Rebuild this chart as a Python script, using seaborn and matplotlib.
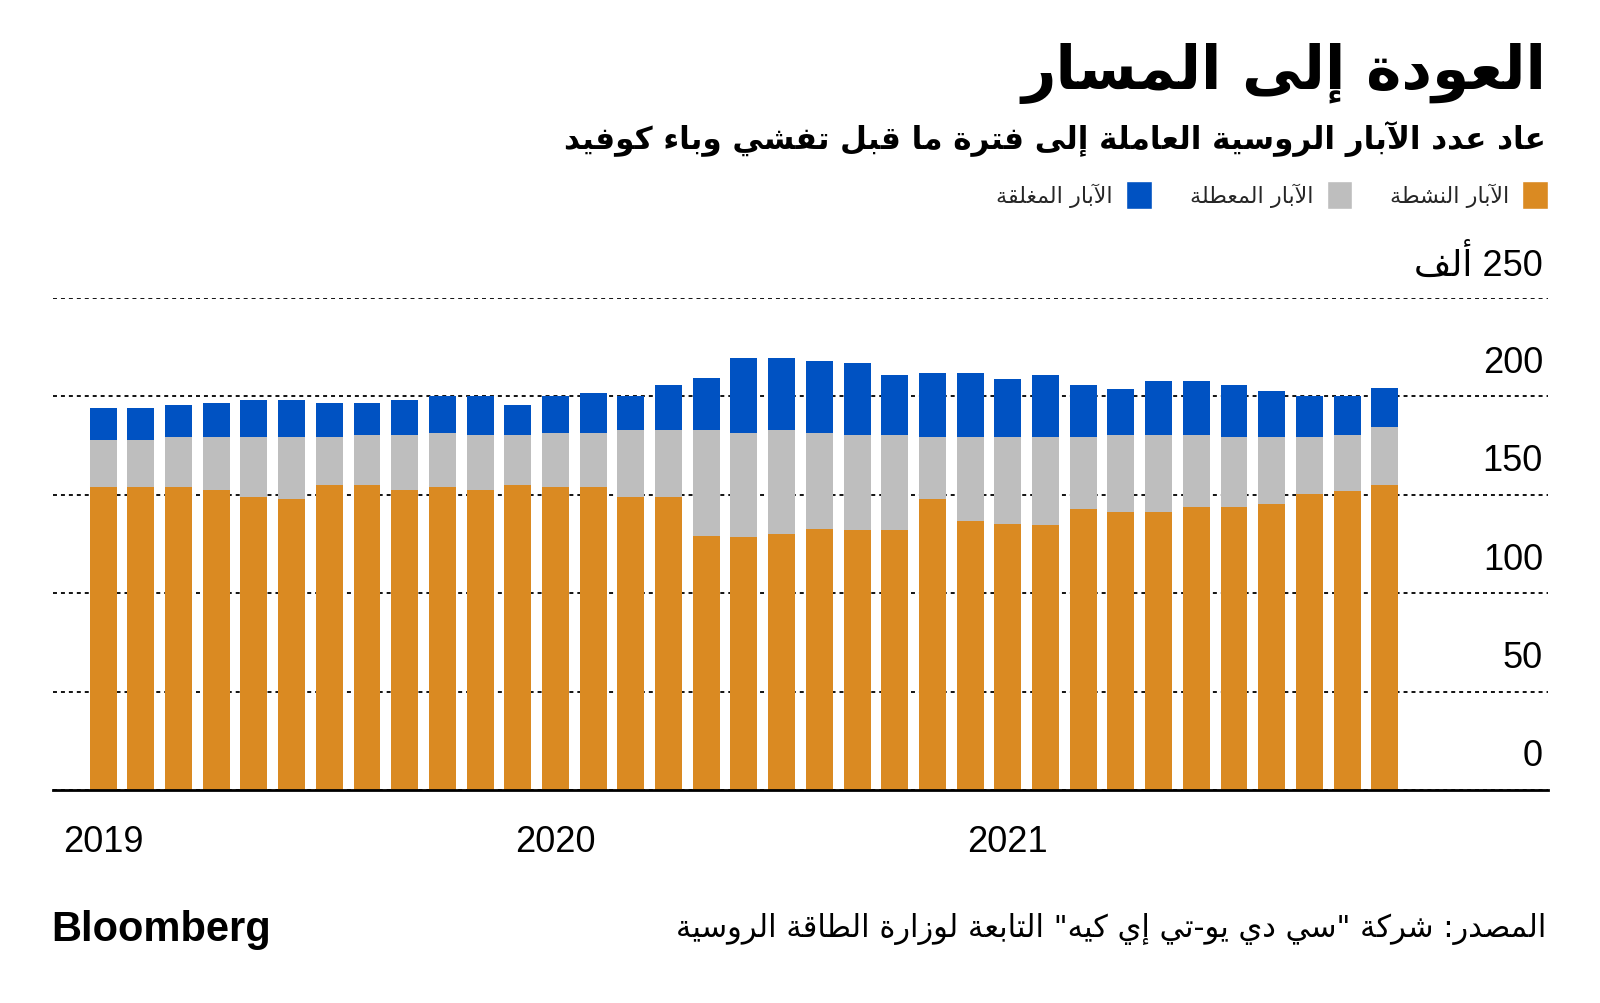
import matplotlib
matplotlib.use("Agg")
import matplotlib.pyplot as plt
import matplotlib.transforms as mtransforms
from matplotlib.patches import Patch
import seaborn as sns
import pandas as pd

# ---------------- data ----------------
months = pd.date_range("2019-01-01", "2021-11-01", freq="MS").strftime("%Y-%m").tolist()
active = [153.9, 153.9, 153.9, 152.5, 149.0, 147.8, 155.1, 155.1, 152.5, 153.9, 152.5, 155.1,
          153.9, 153.9, 149.0, 149.0, 129.0, 128.5, 130.3, 132.5, 132.2, 132.2, 148.0, 136.8,
          135.1, 134.7, 142.7, 141.5, 141.1, 143.6, 143.9, 145.1, 150.5, 151.7, 155.1]
idle = [24.1, 24.1, 25.3, 26.7, 30.2, 31.4, 24.1, 25.2, 27.8, 27.6, 27.8, 25.2,
        27.6, 27.6, 34.1, 34.1, 54.1, 53.0, 52.8, 49.0, 48.1, 48.1, 31.2, 42.4,
        44.1, 44.5, 36.5, 38.8, 39.2, 36.7, 35.3, 34.1, 28.7, 28.8, 29.1]
closed = [16.1, 16.1, 16.4, 17.4, 18.8, 18.8, 17.6, 16.5, 17.7, 18.8, 20.0, 15.5,
          18.8, 20.0, 17.2, 22.7, 26.1, 37.8, 36.2, 36.5, 36.5, 30.7, 32.7, 32.7,
          29.4, 31.5, 26.4, 23.3, 27.7, 27.7, 26.4, 23.7, 21.1, 19.8, 20.0]
year_ticks = ["2019", "2020", "2021"]
y_ticks = [0, 50, 100, 150, 200, 250]

title = "العودة إلى المسار"
subtitle = "عاد عدد الآبار الروسية العاملة إلى فترة ما قبل تفشي وباء كوفيد"
lab_active = "الآبار النشطة"
lab_idle = "الآبار المعطلة"
lab_closed = "الآبار المغلقة"
unit = "ألف"
source = "المصدر: شركة \"سي دي يو-تي إي كيه\" التابعة لوزارة الطاقة الروسية"

C_ACTIVE = "#DA8A22"
C_IDLE = "#BEBEBE"
C_CLOSED = "#0052C2"

# ---------------- minimal Arabic shaping + visual ordering ----------------
_DUAL = {'\u0626': 0xFE89, '\u0628': 0xFE8F, '\u062A': 0xFE95, '\u062B': 0xFE99, '\u062C': 0xFE9D,
         '\u062D': 0xFEA1, '\u062E': 0xFEA5, '\u0633': 0xFEB1, '\u0634': 0xFEB5, '\u0635': 0xFEB9,
         '\u0636': 0xFEBD, '\u0637': 0xFEC1, '\u0638': 0xFEC5, '\u0639': 0xFEC9, '\u063A': 0xFECD,
         '\u0641': 0xFED1, '\u0642': 0xFED5, '\u0643': 0xFED9, '\u0644': 0xFEDD, '\u0645': 0xFEE1,
         '\u0646': 0xFEE5, '\u0647': 0xFEE9, '\u064A': 0xFEF1}
_RIGHT = {'\u0622': 0xFE81, '\u0623': 0xFE83, '\u0624': 0xFE85, '\u0625': 0xFE87, '\u0627': 0xFE8D,
          '\u0629': 0xFE93, '\u062F': 0xFEA9, '\u0630': 0xFEAB, '\u0631': 0xFEAD, '\u0632': 0xFEAF,
          '\u0648': 0xFEED, '\u0649': 0xFEEF}
_LAMALEF = {'\u0622': 0xFEF5, '\u0623': 0xFEF7, '\u0625': 0xFEF9, '\u0627': 0xFEFB}


def ar(s):
    items = []
    i = 0
    while i < len(s):
        c = s[i]
        if c == '\u0644' and i + 1 < len(s) and s[i + 1] in _LAMALEF:
            items.append(('LA', s[i + 1]))
            i += 2
        else:
            items.append(('C', c))
            i += 1

    def jt(it):
        t, c = it
        if t == 'LA':
            return 'R'
        if c in _DUAL:
            return 'D'
        if c in _RIGHT:
            return 'R'
        if c == '\u0621':
            return 'U'
        return None

    out = []
    n = len(items)
    for k, it in enumerate(items):
        t = jt(it)
        pj = k > 0 and jt(items[k - 1]) == 'D'
        nj = k < n - 1 and jt(items[k + 1]) in ('D', 'R')
        c = it[1]
        if it[0] == 'LA':
            out.append(chr(_LAMALEF[c] + (1 if pj else 0)))
        elif t == 'D':
            b = _DUAL[c]
            off = 3 if (pj and nj) else 1 if pj else 2 if nj else 0
            out.append(chr(b + off))
        elif t == 'R':
            out.append(chr(_RIGHT[c] + (1 if pj else 0)))
        elif t == 'U':
            out.append('\uFE80')
        else:
            out.append(c)
    vis = out[::-1]
    # keep left-to-right runs (digits / latin) in their own order
    res, run = [], []
    for ch in vis:
        if ch.isascii() and ch.isalnum():
            run.append(ch)
        else:
            if run:
                res.extend(run[::-1])
                run = []
            res.append(ch)
    if run:
        res.extend(run[::-1])
    return ''.join(res)


# ---------------- figure ----------------
sns.set_style("white")
plt.rcParams['font.family'] = ['Liberation Sans', 'DejaVu Sans']

W, H = 1600, 1004
fig = plt.figure(figsize=(W / 100, H / 100), dpi=100)
ax = fig.add_axes([53 / W, 1 - 791 / H, (1548 - 53) / W, (791 - 299) / H])

df = pd.DataFrame({"month": months, "active": active, "idle": idle, "closed": closed})
df["mid"] = df["active"] + df["idle"]
df["total"] = df["mid"] + df["closed"]

bw = 0.715
sns.barplot(data=df, x="month", y="total", color=C_CLOSED, saturation=1, width=bw,
            linewidth=0, errorbar=None, order=months, ax=ax)
sns.barplot(data=df, x="month", y="mid", color=C_IDLE, saturation=1, width=bw,
            linewidth=0, errorbar=None, order=months, ax=ax)
sns.barplot(data=df, x="month", y="active", color=C_ACTIVE, saturation=1, width=bw,
            linewidth=0, errorbar=None, order=months, ax=ax)

ax.set_xlim(-1.33, 38.33)
ax.set_ylim(0, 250)
ax.set_xlabel("")
ax.set_ylabel("")

# x ticks at January of each year
ax.set_xticks([months.index(y + "-01") for y in year_ticks])
ax.set_xticklabels(year_ticks, fontsize=26)
ax.tick_params(axis="x", direction="out", length=10.5, width=1.2, color="black",
               pad=14, labelcolor="black")

# y ticks: labels inside, right aligned, above the gridlines
ax.yaxis.tick_right()
ax.set_yticks(y_ticks)
ylabels = [str(v) for v in y_ticks]
ylabels[-1] = ar(f"{y_ticks[-1]} {unit}")
ax.set_yticklabels(ylabels, fontsize=26)
ax.tick_params(axis="y", length=0, pad=0, labelcolor="black")
shift = mtransforms.ScaledTranslation(-5 / 100, 34 / 100, fig.dpi_scale_trans)
for lab in ax.get_yticklabels():
    lab.set_horizontalalignment("right")
    lab.set_verticalalignment("center")
    lab.set_transform(lab.get_transform() + shift)

ax.yaxis.grid(True, color="black", linestyle=(0, (2.2, 2.2)), linewidth=1.3)
ax.xaxis.grid(False)
ax.set_axisbelow(True)
for s in ["top", "left", "right"]:
    ax.spines[s].set_visible(False)
ax.spines["bottom"].set_color("black")
ax.spines["bottom"].set_linewidth(2)
ax.spines["bottom"].set_zorder(5)

# ---------------- texts ----------------
fig.text(1546 / W, 1 - 89 / H, ar(title), ha="right", va="baseline",
         fontsize=43, fontweight="bold", family="DejaVu Sans", color="black")
fig.text(1546 / W, 1 - 149 / H, ar(subtitle), ha="right", va="baseline",
         fontsize=22.3, fontweight="bold", family="DejaVu Sans", color="black")

handles = [Patch(facecolor=C_CLOSED), Patch(facecolor=C_IDLE), Patch(facecolor=C_ACTIVE)]
labels = [ar(lab_closed), ar(lab_idle), ar(lab_active)]
fig.legend(handles, labels, loc="center right", bbox_to_anchor=(1548 / W, 1 - 196 / H),
           ncol=3, frameon=False, markerfirst=False, prop={"family": "DejaVu Sans", "size": 16},
           handlelength=1.15, handleheight=1.5, handletextpad=0.6, columnspacing=1.7,
           borderaxespad=0, borderpad=0)

fig.text(1546 / W, 1 - 937 / H, ar(source), ha="right", va="baseline",
         fontsize=22, family="DejaVu Sans", color="black")
fig.text(51 / W, 1 - 941 / H, "Bloomberg", ha="left", va="baseline",
         fontsize=30, fontweight="bold", family="Liberation Sans", color="black")

fig.savefig("out.png", dpi=100, facecolor="white")
